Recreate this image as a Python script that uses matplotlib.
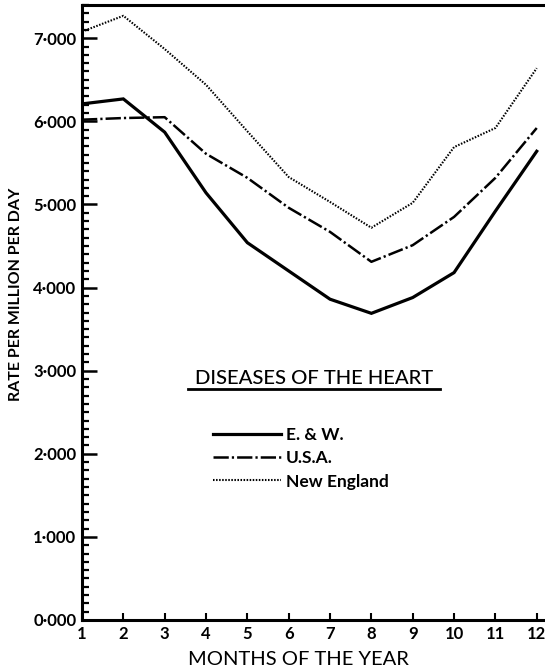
import matplotlib
matplotlib.use('Agg')
import matplotlib.pyplot as plt
from matplotlib.ticker import MultipleLocator, FuncFormatter

plt.rcParams['font.family'] = ['Lato', 'DejaVu Sans']
plt.rcParams['lines.scale_dashes'] = False

# monthly rates per million per day
months = [1, 2, 3, 4, 5, 6, 7, 8, 9, 10, 11, 12]
ew = [6.21, 6.27, 5.87, 5.14, 4.54, 4.20, 3.86, 3.69, 3.88, 4.18, 4.92, 5.64]
usa = [6.02, 6.04, 6.05, 5.61, 5.32, 4.96, 4.67, 4.31, 4.51, 4.85, 5.32, 5.92]
new_england = [7.08, 7.27, 6.87, 6.44, 5.88, 5.33, 5.03, 4.72, 5.02, 5.69, 5.92, 6.64]

series_names = ['E. & W.', 'U.S.A.', 'New England']
title = 'DISEASES OF THE HEART'

fig = plt.figure(figsize=(5.45, 6.71), dpi=100)
ax = fig.add_axes([82/545, 51/671, 463/545, 615/671])

ax.plot(months, ew, color='k', lw=2.3, solid_joinstyle='miter', label=series_names[0])
ax.plot(months, usa, color='k', lw=1.8, linestyle=(0, (11, 2.2, 1.6, 2.2)), label=series_names[1])
ax.plot(months, new_england, color='k', lw=1.5, linestyle=(0, (1.1, 1.1)), label=series_names[2])

ax.set_xlim(1, 12.2)
ax.set_ylim(0, 7.4)

ax.xaxis.set_major_locator(MultipleLocator(1))
ax.yaxis.set_major_locator(MultipleLocator(1))
ax.yaxis.set_minor_locator(MultipleLocator(0.1))
ax.yaxis.set_major_formatter(FuncFormatter(lambda v, p: ('%.3f' % v).replace('.', '\u00b7')))

for s in ['left', 'top', 'bottom']:
    ax.spines[s].set_linewidth(2.2)
ax.spines['right'].set_visible(False)

ax.tick_params(axis='y', which='major', direction='in', length=11, width=1.8, labelsize=12, pad=4)
ax.tick_params(axis='y', which='minor', direction='in', length=5, width=1.6)
ax.tick_params(axis='x', which='major', direction='in', length=5, width=1.5, labelsize=12, pad=4)
for lab in ax.get_xticklabels() + ax.get_yticklabels():
    lab.set_fontweight('bold')

ax.set_xlabel('MONTHS OF THE YEAR', fontsize=14.5)
ax.xaxis.set_label_coords(0.467, -0.051)
ax.set_ylabel('RATE PER MILLION PER DAY', fontsize=11.5, fontweight='bold')
ax.yaxis.set_label_coords(-0.128, 0.53)

# title with underline, legend below it
ax.text(0.501, 0.393, title, transform=ax.transAxes, ha='center', va='center',
        fontsize=14.6, fontweight='medium')
ax.plot([0.229, 0.773], [0.376, 0.376], transform=ax.transAxes, color='k', lw=2, clip_on=False)

ax.legend(loc='center left', bbox_to_anchor=(0.283, 0.263), frameon=False,
          handlelength=3.9, handletextpad=0.3, labelspacing=0.42, borderpad=0, borderaxespad=0,
          prop={'weight': 'bold', 'size': 12.5})

fig.savefig('out.png', dpi=100)
